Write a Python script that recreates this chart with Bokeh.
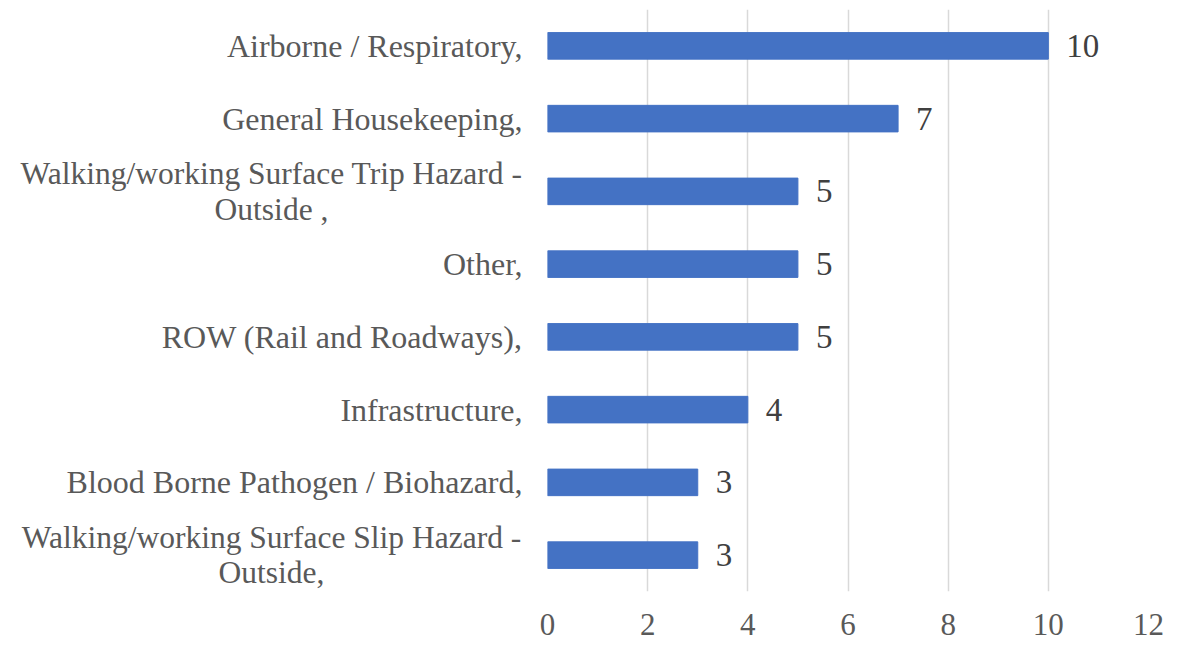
from bokeh.plotting import figure
from bokeh.models import ColumnDataSource, LabelSet, FixedTicker
from bokeh.layouts import row
from bokeh.core.properties import value
from bokeh.embed import file_html
from bokeh.resources import INLINE

categories = [
    "Airborne / Respiratory,",
    "General Housekeeping,",
    "Walking/working Surface Trip Hazard -\nOutside ,",
    "Other,",
    "ROW (Rail and Roadways),",
    "Infrastructure,",
    "Blood Borne Pathogen / Biohazard,",
    "Walking/working Surface Slip Hazard -\nOutside,",
]
values = [10, 7, 5, 5, 5, 4, 3, 3]
x_ticks = [0, 2, 4, 6, 8, 10, 12]

H = 642
LEFT_W = 527          # width of label panel
GAP = 20              # left border of bar panel (frame starts at 547)
src = ColumnDataSource(dict(cat=categories, val=values, lab=[str(v) for v in values]))

single = [c for c in categories if "\n" not in c]
multi = [c for c in categories if "\n" in c]
src_single = ColumnDataSource(dict(cat=single, x=[LEFT_W - 5] * len(single)))
src_multi = ColumnDataSource(dict(cat=multi, x=[271] * len(multi)))

y_factors = list(reversed(categories))

# left panel: category labels
pl = figure(y_range=y_factors, x_range=(0, LEFT_W), width=LEFT_W, height=H,
            output_backend="svg", toolbar_location=None,
            min_border_left=0, min_border_right=0, min_border_top=9, min_border_bottom=51)
pl.axis.visible = False
pl.grid.grid_line_color = None
pl.outline_line_color = None
pl.border_fill_color = "white"
cat_font = "32px"
pl.text(x="x", y="cat", text="cat", source=src_single, text_align="right",
        text_baseline="middle", text_font=value("Liberation Serif"),
        text_font_size=cat_font, text_color="#595959")
pl.text(x="x", y="cat", text="cat", source=src_multi, text_align="center",
        text_baseline="middle", text_line_height=1.02, text_font=value("Liberation Serif"),
        text_font_size="31.5px", text_color="#595959")

# right panel: bars
p = figure(y_range=pl.y_range, x_range=(0, 12),
           width=1173 - LEFT_W, height=H, output_backend="svg", toolbar_location=None,
           min_border_left=GAP, min_border_right=25, min_border_top=9, min_border_bottom=51)
p.outline_line_color = None
p.background_fill_color = "white"
p.border_fill_color = "white"

p.hbar(y="cat", right="val", left=0, height=0.365, source=src,
       fill_color="#4472C4", line_color="#4472C4")

labels = LabelSet(x="val", y="cat", text="lab", source=src, x_offset=18,
                  text_baseline="middle", text_align="left",
                  text_font="Liberation Serif", text_font_size="33px",
                  text_color="#404040")
p.add_layout(labels)

p.xaxis.ticker = FixedTicker(ticks=x_ticks)
p.xaxis.axis_line_color = None
p.xaxis.major_tick_line_color = None
p.xaxis.minor_tick_line_color = None
p.xaxis.major_label_text_font = "Liberation Serif"
p.xaxis.major_label_text_font_size = "31px"
p.xaxis.major_label_text_color = "#595959"
p.xaxis.major_label_standoff = 16
p.yaxis.visible = False

p.xgrid.grid_line_color = "#D9D9D9"
p.xgrid.grid_line_width = 1.5
p.ygrid.grid_line_color = None

layout = row(pl, p)
open("out.html", "w").write(file_html(layout, INLINE))
